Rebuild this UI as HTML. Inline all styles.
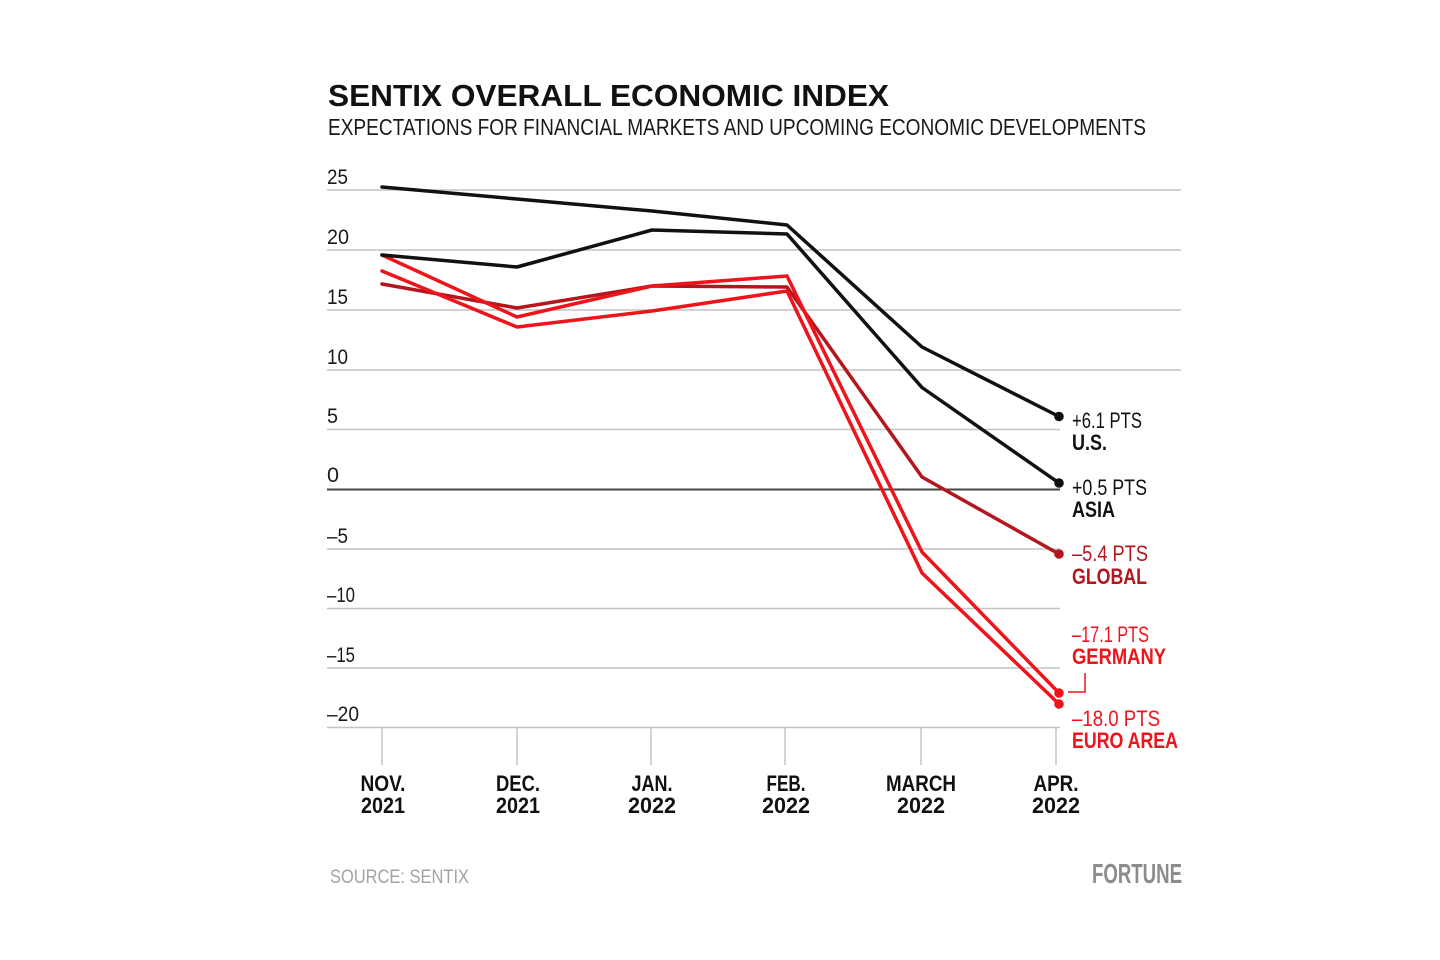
<!DOCTYPE html>
<html>
<head>
<meta charset="utf-8">
<style>
  html,body{margin:0;padding:0;background:#fff;}
  svg{display:block;}
  text{font-family:"Liberation Sans", "DejaVu Sans", sans-serif;}
</style>
</head>
<body>
<svg width="1440" height="960" viewBox="0 0 1440 960" xmlns="http://www.w3.org/2000/svg">
  <rect width="1440" height="960" fill="#fff"/>

  <!-- Title -->
  <text x="328" y="106" font-size="31" font-weight="bold" fill="#111" textLength="561" lengthAdjust="spacingAndGlyphs">SENTIX OVERALL ECONOMIC INDEX</text>
  <text x="328" y="135" font-size="23" fill="#1a1a1a" textLength="818" lengthAdjust="spacingAndGlyphs">EXPECTATIONS FOR FINANCIAL MARKETS AND UPCOMING ECONOMIC DEVELOPMENTS</text>

  <!-- Gridlines -->
  <g stroke="#c4c4c4" stroke-width="1.5">
    <line x1="327" y1="190" x2="1181" y2="190"/>
    <line x1="327" y1="250" x2="1181" y2="250"/>
    <line x1="327" y1="310" x2="1181" y2="310"/>
    <line x1="327" y1="370" x2="1181" y2="370"/>
    <line x1="327" y1="429.5" x2="1060" y2="429.5"/>
    <line x1="327" y1="549" x2="1060" y2="549"/>
    <line x1="327" y1="608.5" x2="1060" y2="608.5"/>
    <line x1="327" y1="668" x2="1060" y2="668"/>
    <line x1="327" y1="727.5" x2="1060" y2="727.5"/>
  </g>
  <line x1="327" y1="489.5" x2="1060" y2="489.5" stroke="#444" stroke-width="2"/>

  <!-- Ticks -->
  <g stroke="#c4c4c4" stroke-width="1.5">
    <line x1="382" y1="728" x2="382" y2="765"/>
    <line x1="517" y1="728" x2="517" y2="765"/>
    <line x1="651" y1="728" x2="651" y2="765"/>
    <line x1="785" y1="728" x2="785" y2="765"/>
    <line x1="921" y1="728" x2="921" y2="765"/>
    <line x1="1056" y1="728" x2="1056" y2="765"/>
  </g>

  <!-- Y labels -->
  <g font-size="21" fill="#1a1a1a">
    <text x="327" y="184" textLength="21" lengthAdjust="spacingAndGlyphs">25</text>
    <text x="327" y="244" textLength="22" lengthAdjust="spacingAndGlyphs">20</text>
    <text x="327" y="304" textLength="21" lengthAdjust="spacingAndGlyphs">15</text>
    <text x="327" y="364" textLength="21" lengthAdjust="spacingAndGlyphs">10</text>
    <text x="327" y="423" textLength="11" lengthAdjust="spacingAndGlyphs">5</text>
    <text x="327" y="482" textLength="12" lengthAdjust="spacingAndGlyphs">0</text>
    <text x="327" y="543" textLength="21" lengthAdjust="spacingAndGlyphs">–5</text>
    <text x="327" y="602" textLength="28" lengthAdjust="spacingAndGlyphs">–10</text>
    <text x="327" y="662" textLength="28" lengthAdjust="spacingAndGlyphs">–15</text>
    <text x="327" y="721" textLength="32" lengthAdjust="spacingAndGlyphs">–20</text>
  </g>

  <!-- X labels -->
  <g font-size="22" font-weight="bold" fill="#111" text-anchor="middle">
    <text x="383" y="791" textLength="45" lengthAdjust="spacingAndGlyphs">NOV.</text>
    <text x="383" y="813" textLength="44" lengthAdjust="spacingAndGlyphs">2021</text>
    <text x="518" y="791" textLength="44" lengthAdjust="spacingAndGlyphs">DEC.</text>
    <text x="518" y="813" textLength="44" lengthAdjust="spacingAndGlyphs">2021</text>
    <text x="652" y="791" textLength="41" lengthAdjust="spacingAndGlyphs">JAN.</text>
    <text x="652" y="813" textLength="48" lengthAdjust="spacingAndGlyphs">2022</text>
    <text x="786" y="791" textLength="39" lengthAdjust="spacingAndGlyphs">FEB.</text>
    <text x="786" y="813" textLength="48" lengthAdjust="spacingAndGlyphs">2022</text>
    <text x="921" y="791" textLength="70" lengthAdjust="spacingAndGlyphs">MARCH</text>
    <text x="921" y="813" textLength="48" lengthAdjust="spacingAndGlyphs">2022</text>
    <text x="1056" y="791" textLength="45" lengthAdjust="spacingAndGlyphs">APR.</text>
    <text x="1056" y="813" textLength="48" lengthAdjust="spacingAndGlyphs">2022</text>
  </g>

  <!-- Series -->
  <g fill="none" stroke-width="3.5" stroke-linejoin="round" stroke-linecap="round">
    <polyline stroke="#b3161d" points="382,284 517,308 652,286 787,287 922,477 1059,554"/>
    <polyline stroke="#ee141c" points="382,271 517,327 652,311 787,291 922,573 1059,704"/>
    <polyline stroke="#ee141c" points="382,255 517,317 652,286 787,276 922,552 1059,693"/>
    <polyline stroke="#111" points="382,187 517,199 652,211 787,225 922,347 1059,416.5"/>
    <polyline stroke="#111" points="382,255 517,267 652,230 787,234 922,387.5 1059,483"/>
  </g>
  <!-- End dots -->
  <circle cx="1059" cy="416.5" r="4.8" fill="#111"/>
  <circle cx="1059" cy="483" r="4.8" fill="#111"/>
  <circle cx="1059" cy="554" r="4.8" fill="#b3161d"/>
  <circle cx="1059" cy="693" r="4.8" fill="#ee141c"/>
  <circle cx="1059" cy="704" r="4.8" fill="#ee141c"/>

  <!-- Connector for Germany -->
  <polyline points="1085,673 1085,692 1068,692" fill="none" stroke="#ee141c" stroke-width="1.5"/>

  <!-- Right labels -->
  <g font-size="22">
    <text x="1072" y="428" fill="#111" textLength="70" lengthAdjust="spacingAndGlyphs">+6.1 PTS</text>
    <text x="1072" y="450" fill="#111" font-weight="bold" textLength="35" lengthAdjust="spacingAndGlyphs">U.S.</text>
    <text x="1072" y="495" fill="#111" textLength="75" lengthAdjust="spacingAndGlyphs">+0.5 PTS</text>
    <text x="1072" y="517" fill="#111" font-weight="bold" textLength="43" lengthAdjust="spacingAndGlyphs">ASIA</text>
    <text x="1072" y="561" fill="#b3161d" textLength="76" lengthAdjust="spacingAndGlyphs">–5.4 PTS</text>
    <text x="1072" y="584" fill="#b3161d" font-weight="bold" textLength="75" lengthAdjust="spacingAndGlyphs">GLOBAL</text>
    <text x="1072" y="642" fill="#ee141c" textLength="77" lengthAdjust="spacingAndGlyphs">–17.1 PTS</text>
    <text x="1072" y="664" fill="#ee141c" font-weight="bold" textLength="94" lengthAdjust="spacingAndGlyphs">GERMANY</text>
    <text x="1072" y="726" fill="#ee141c" textLength="88" lengthAdjust="spacingAndGlyphs">–18.0 PTS</text>
    <text x="1072" y="748" fill="#ee141c" font-weight="bold" textLength="106" lengthAdjust="spacingAndGlyphs">EURO AREA</text>
  </g>

  <!-- Footer -->
  <text x="330" y="883" font-size="19" fill="#a3a3a3" textLength="139" lengthAdjust="spacingAndGlyphs">SOURCE: SENTIX</text>
  <text x="1092" y="883" font-size="28" font-weight="bold" fill="#8c8c8c" textLength="90" lengthAdjust="spacingAndGlyphs">FORTUNE</text>
</svg>
</body>
</html>
